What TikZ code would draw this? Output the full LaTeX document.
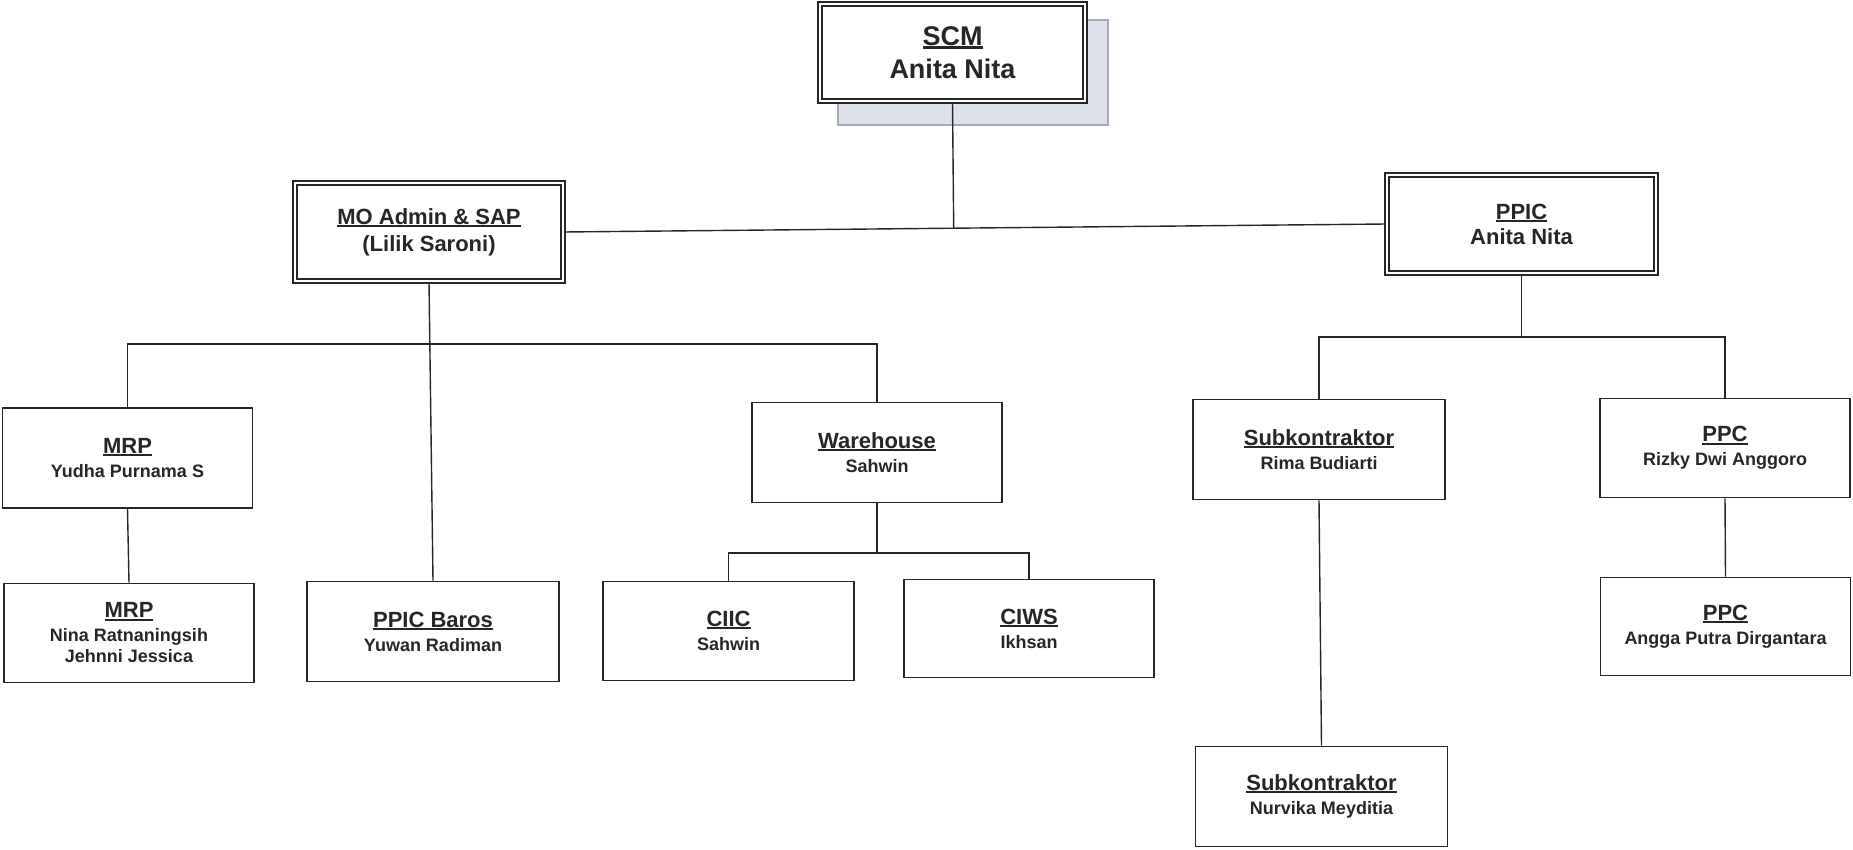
\documentclass[tikz,border=0pt]{standalone}
\usepackage{fontspec}
\setmainfont{Liberation Sans}
\usetikzlibrary{calc}
\definecolor{ink}{HTML}{262626}
\definecolor{shade}{HTML}{DDE2EA}
\definecolor{shadeedge}{HTML}{A6AAB2}
\newsavebox\ttlbox
\newcommand{\ttlu}[1]{\sbox\ttlbox{#1}\rlap{\rule[-0.125em]{\wd\ttlbox}{0.085em}}\usebox\ttlbox}
\begin{document}
\begin{tikzpicture}[x=1pt,y=-1pt,
  orgbox/.style={draw=ink, line width=1.6pt, inner sep=0pt, align=center, text=ink,
     font=\bfseries\fontsize{18}{21}\selectfont},
  dblbox/.style={draw=ink, line width=1.6pt, double=white, double distance=2.6pt,
     inner sep=0pt, align=center, text=ink, fill=white},
  link/.style={draw=ink, line width=1.4pt}]
\useasboundingbox (0,0) rectangle (1853,850);

% shadow of the top box
\draw[fill=shade, draw=shadeedge, line width=1.5pt] (838,20) rectangle (1108,125);

% top level
\node[dblbox, minimum width=265pt, minimum height=97pt,
      font=\bfseries\fontsize{27}{33}\selectfont] (scm) at (952.5,52.5)
      {\ttlu{SCM}\\Anita Nita};

\node[dblbox, minimum width=268pt, minimum height=98pt,
      font=\bfseries\fontsize{22}{27}\selectfont] (mo) at (429,232)
      {\ttlu{MO Admin \& SAP}\\(Lilik Saroni)};

\node[dblbox, minimum width=269pt, minimum height=98pt,
      font=\bfseries\fontsize{22}{25}\selectfont] (ppic) at (1521.5,224)
      {\ttlu{PPIC}\\Anita Nita};

% second level
\node[orgbox, minimum width=250pt, minimum height=100pt] (mrp1) at (127.5,458)
  {{\fontsize{22}{24}\selectfont\ttlu{MRP}}\\[3pt]Yudha Purnama S};
\node[orgbox, minimum width=250pt, minimum height=99pt] (mrp2) at (129,633)
  {{\fontsize{22}{24}\selectfont\ttlu{MRP}}\\[3pt]Nina Ratnaningsih\\Jehnni Jessica};
\node[orgbox, minimum width=252pt, minimum height=100pt] (baros) at (433,631.5)
  {{\fontsize{22}{24}\selectfont\ttlu{PPIC Baros}}\\[3pt]Yuwan Radiman};
\node[orgbox, minimum width=250pt, minimum height=100pt] (wh) at (877,452.5)
  {{\fontsize{22}{24}\selectfont\ttlu{Warehouse}}\\[3pt]Sahwin};
\node[orgbox, minimum width=251pt, minimum height=99pt] (ciic) at (728.5,631)
  {{\fontsize{22}{24}\selectfont\ttlu{CIIC}}\\[3pt]Sahwin};
\node[orgbox, minimum width=250pt, minimum height=98pt] (ciws) at (1029,628.5)
  {{\fontsize{22}{24}\selectfont\ttlu{CIWS}}\\[3pt]Ikhsan};
\node[orgbox, minimum width=252pt, minimum height=100pt] (subk1) at (1319,449.5)
  {{\fontsize{22}{24}\selectfont\ttlu{Subkontraktor}}\\[3pt]Rima Budiarti};
\node[orgbox, minimum width=252pt, minimum height=100pt] (subk2) at (1321.5,796.5)
  {{\fontsize{22}{24}\selectfont\ttlu{Subkontraktor}}\\[3pt]Nurvika Meyditia};
\node[orgbox, minimum width=250pt, minimum height=99pt] (ppc1) at (1725,448)
  {{\fontsize{22}{24}\selectfont\ttlu{PPC}}\\[3pt]Rizky Dwi Anggoro};
\node[orgbox, minimum width=250pt, minimum height=98pt] (ppc2) at (1725.5,626.5)
  {{\fontsize{22}{24}\selectfont\ttlu{PPC}}\\[3pt]Angga Putra Dirgantara};

% connectors
\draw[link] (mo.east) -- (ppic.west);
\draw[link] (scm.south) -- ($(mo.east)!(scm.south)!(ppic.west)$);

\coordinate (busmo) at (429,344);
\draw[link] (mo.south) -- (baros.north);
\draw[link] (mrp1.north) |- (busmo) -| (wh.north);
\draw[link] (mrp1.south) -- (mrp2.north);

\coordinate (buswh) at (877,553);
\draw[link] (wh.south) -- (buswh);
\draw[link] (ciic.north) |- (buswh) -| (ciws.north);

\coordinate (busppic) at (1521.5,337);
\draw[link] (ppic.south) -- (busppic);
\draw[link] (subk1.north) |- (busppic) -| (ppc1.north);
\draw[link] (subk1.south) -- (subk2.north);
\draw[link] (ppc1.south) -- (ppc2.north);
\end{tikzpicture}
\end{document}
